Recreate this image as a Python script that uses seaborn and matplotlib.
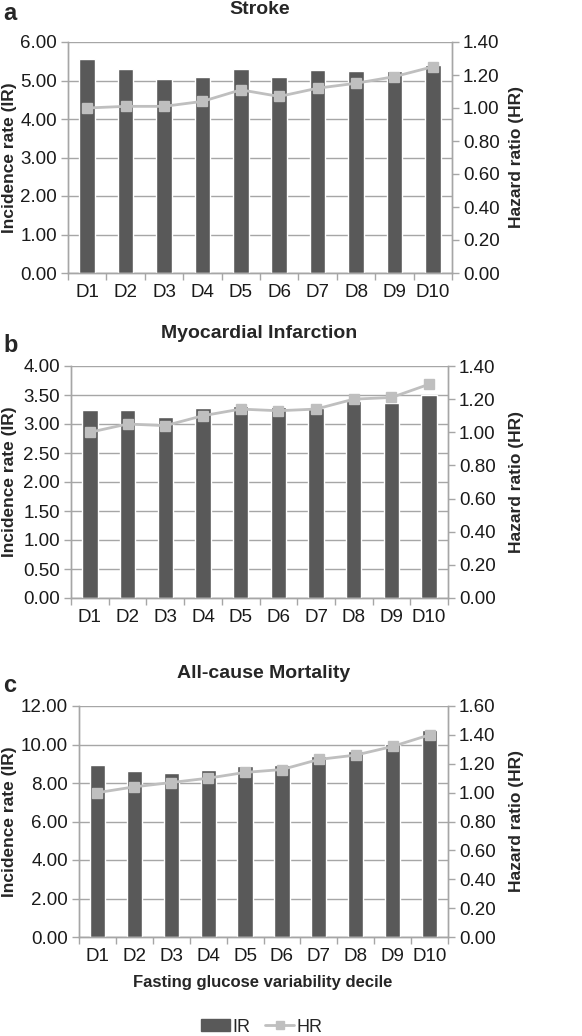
import numpy as np
import pandas as pd
import matplotlib
matplotlib.use('Agg')
import matplotlib.pyplot as plt
from matplotlib.patches import Patch
from matplotlib.lines import Line2D
import seaborn as sns

sns.set_style('white')
plt.rcParams['font.family'] = ['Liberation Sans', 'DejaVu Sans']

deciles = ['D1', 'D2', 'D3', 'D4', 'D5', 'D6', 'D7', 'D8', 'D9', 'D10']

stroke_ir = [5.56, 5.30, 5.04, 5.10, 5.30, 5.10, 5.26, 5.24, 5.24, 5.40]
stroke_hr = [1.00, 1.01, 1.01, 1.04, 1.11, 1.07, 1.12, 1.15, 1.19, 1.25]

mi_ir = [3.24, 3.24, 3.12, 3.27, 3.31, 3.29, 3.27, 3.40, 3.36, 3.50]
mi_hr = [1.00, 1.05, 1.04, 1.10, 1.14, 1.13, 1.14, 1.20, 1.21, 1.29]

mort_ir = [8.92, 8.61, 8.54, 8.68, 8.89, 8.94, 9.41, 9.68, 10.03, 10.76]
mort_hr = [1.00, 1.04, 1.07, 1.10, 1.14, 1.16, 1.23, 1.26, 1.32, 1.40]

panels = [
    ('a', 'Stroke', stroke_ir, stroke_hr, (0, 6, 1.0), (0, 1.4, 0.2)),
    ('b', 'Myocardial Infarction', mi_ir, mi_hr, (0, 4, 0.5), (0, 1.4, 0.2)),
    ('c', 'All-cause Mortality', mort_ir, mort_hr, (0, 12, 2.0), (0, 1.6, 0.2)),
]

# axes boxes in pixels: left, right, top, bottom
boxes = [(68, 452, 42, 273), (71, 448, 366, 598), (79, 448, 706, 937)]
title_y = [10, 333, 673]
letter_y = [13, 345, 686]

W, H = 582, 1036
BAR = '#595959'
LINE = '#BFBFBF'
GRID = '#A6A6A6'
TICK_FS = 13.5

fig = plt.figure(figsize=(W / 100, H / 100), dpi=100)

for (letter, title, ir, hr, ylim, hlim), (l, r, t, b), ty, ly in zip(panels, boxes, title_y, letter_y):
    ax = fig.add_axes([l / W, 1 - b / H, (r - l) / W, (b - t) / H])
    df = pd.DataFrame({'decile': deciles, 'IR': ir, 'HR': hr})
    sns.barplot(data=df, x='decile', y='IR', ax=ax, color=BAR, width=0.41,
                saturation=1, zorder=3)
    ax.set_ylim(ylim[0], ylim[1])
    ax.set_yticks(np.arange(ylim[0], ylim[1] + 1e-9, ylim[2]))
    ax.set_yticklabels([f'{v:.2f}' for v in ax.get_yticks()])
    ax.set_xlim(-0.5, 9.5)
    ax.set_xlabel('')
    ax.set_ylabel('')
    ax.yaxis.grid(True, color=GRID, lw=1, zorder=0)
    ax.set_axisbelow(True)

    ax2 = ax.twinx()
    ax2.plot(np.arange(len(deciles)), df['HR'], color=LINE, lw=2, marker='s',
             ms=6.5, markerfacecolor=LINE, markeredgecolor=LINE, zorder=4)
    ax2.set_ylim(hlim[0], hlim[1])
    ax2.set_yticks(np.arange(hlim[0], hlim[1] + 1e-9, hlim[2]))
    ax2.set_yticklabels([f'{v:.2f}' for v in ax2.get_yticks()])

    for a in (ax, ax2):
        a.spines['top'].set_visible(False)
        for s in ('left', 'right', 'bottom'):
            a.spines[s].set_color(GRID)
            a.spines[s].set_linewidth(1)
        a.tick_params(axis='y', length=5, width=1, color=GRID, labelsize=TICK_FS,
                      labelcolor='#1a1a1a', pad=3)
    ax.tick_params(axis='y', left=True, right=False)
    ax2.tick_params(axis='y', right=True, left=False)

    # x ticks sit between categories, labels at category centres
    ax.set_xticks(np.arange(-0.5, 10, 1.0), minor=False)
    ax.set_xticklabels([''] * 11)
    ax.set_xticks(np.arange(len(deciles)), minor=True)
    ax.set_xticklabels(deciles, minor=True)
    ax.tick_params(axis='x', which='major', length=5, width=1, color=GRID, bottom=True)
    ax.tick_params(axis='x', which='minor', length=0, labelsize=TICK_FS,
                   labelcolor='#1a1a1a', pad=8)

    cx = (l + r) / 2
    fig.text(cx / W, 1 - ty / H, title, ha='center', va='center',
             fontsize=14, fontweight='bold')
    fig.text(3 / W, 1 - ly / H, letter, ha='left', va='center',
             fontsize=17, fontweight='bold')
    fig.text(10 / W, 1 - (t + b) / 2 / H, 'Incidence rate (IR)', rotation=90,
             ha='center', va='center', fontsize=12.5, fontweight='bold')
    fig.text(516 / W, 1 - (t + b) / 2 / H, 'Hazard ratio (HR)', rotation=90,
             ha='center', va='center', fontsize=12.5, fontweight='bold')

fig.text(263 / W, 1 - 983 / H, 'Fasting glucose variability decile',
         ha='center', va='center', fontsize=12, fontweight='bold')

handles = [Patch(facecolor=BAR, edgecolor=BAR),
           Line2D([0], [0], color=LINE, lw=2, marker='s', ms=6,
                  markerfacecolor=LINE, markeredgecolor=LINE)]
fig.legend(handles, ['IR', 'HR'], loc='center', bbox_to_anchor=(262 / W, 1 - 1027 / H),
           ncol=2, frameon=False, fontsize=13, handlelength=1.6, handleheight=0.6,
           columnspacing=0.8, handletextpad=0.15)

fig.savefig('out.png', dpi=100)
